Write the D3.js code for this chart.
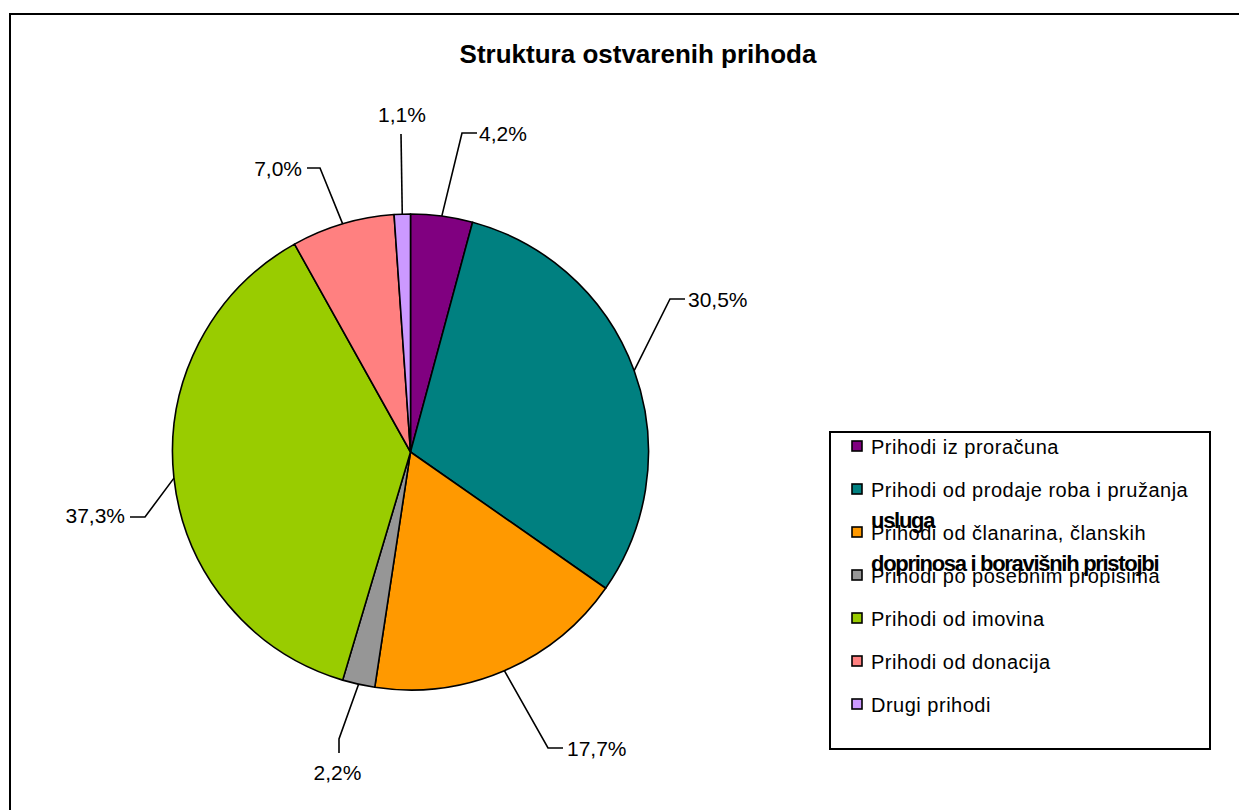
<!DOCTYPE html>
<html><head><meta charset="utf-8">
<script src="https://cdn.jsdelivr.net/npm/d3@7"></script>
<style>
html,body{margin:0;padding:0;background:#fff;}
svg{display:block;font-family:"Liberation Sans",Arial,sans-serif;}
</style></head>
<body>
<svg id="chart" width="1239" height="810"></svg>
<script>
// ---- data ----
const categories = ["Prihodi iz proračuna","Prihodi od prodaje roba i pružanja usluga","Prihodi od članarina, članskih doprinosa i boravišnih pristojbi","Prihodi po posebnim propisima","Prihodi od imovina","Prihodi od donacija","Drugi prihodi"];
const legendFirstLine = ["Prihodi iz proračuna","Prihodi od prodaje roba i pružanja","Prihodi od članarina, članskih","Prihodi po posebnim propisima","Prihodi od imovina","Prihodi od donacija","Drugi prihodi"];
const legendOverflow = ["","usluga","doprinosa i boravišnih pristojbi","","","",""];
const shares = [4.2, 30.5, 17.7, 2.2, 37.3, 7.0, 1.1];
const labels = ["4,2%","30,5%","17,7%","2,2%","37,3%","7,0%","1,1%"];
const colors = ["#800080","#008080","#FF9900","#969696","#99CC00","#FF8080","#CC99FF"];
const title = "Struktura ostvarenih prihoda";

// ---- layout (label offsets relative to pie centre) ----
const labelLayout = [
  {pts:[[51.5,-319],[66.5,-319]], text:[68.5,-311], anchor:"start"},
  {pts:[[259.5,-153],[274.5,-153]], text:[277.5,-145.5], anchor:"start"},
  {pts:[[137.5,296],[152.5,296]], text:[156.5,304], anchor:"start"},
  {pts:[[-71.5,287],[-71.5,301]], text:[-73,328], anchor:"middle"},
  {pts:[[-265.5,65],[-280.5,65]], text:[-285.5,71], anchor:"end"},
  {pts:[[-90.5,-284],[-103.5,-284]], text:[-108.5,-276], anchor:"end"},
  {pts:[[-9.5,-318]], text:[-8.5,-330], anchor:"middle"}
];

const svg = d3.select("#chart");
// outer frame
svg.append("rect").attr("x",10).attr("y",14).attr("width",1260).attr("height",820)
  .attr("fill","#fff").attr("stroke","#000").attr("stroke-width",2);

svg.append("text").attr("x",638).attr("y",63).attr("text-anchor","middle")
  .attr("font-size",26).attr("font-weight","bold").text(title);

const cx = 410.5, cy = 452, R = 238;
const g = svg.append("g").attr("transform",`translate(${cx},${cy})`);
const pie = d3.pie().value(d=>d).sort(null);
const arcs = pie(shares);
const arc = d3.arc().innerRadius(0).outerRadius(R);
const edge = d3.arc().innerRadius(R).outerRadius(R);

g.selectAll("path.slice").data(arcs).join("path").attr("class","slice")
  .attr("d",arc).attr("fill",(d,i)=>colors[i])
  .attr("stroke","#000").attr("stroke-width",1.6).attr("stroke-linejoin","round");

const line = d3.line();
g.selectAll("path.leader").data(arcs).join("path").attr("class","leader")
  .attr("d",(d,i)=>line([edge.centroid(d), ...labelLayout[i].pts]))
  .attr("fill","none").attr("stroke","#000").attr("stroke-width",1.6);

g.selectAll("text.lbl").data(arcs).join("text").attr("class","lbl")
  .attr("x",(d,i)=>labelLayout[i].text[0]).attr("y",(d,i)=>labelLayout[i].text[1])
  .attr("text-anchor",(d,i)=>labelLayout[i].anchor)
  .attr("font-size",21).attr("fill","#000").text((d,i)=>labels[i]);

// legend
const lg = svg.append("g");
lg.append("rect").attr("x",830).attr("y",432).attr("width",380).attr("height",317)
  .attr("fill","#fff").attr("stroke","#000").attr("stroke-width",2);
const rowY = d3.scaleLinear().domain([0,6]).range([454,712]);
const items = lg.selectAll("g.item").data(categories).join("g").attr("class","item")
  .attr("transform",(d,i)=>`translate(0,${rowY(i)})`);
items.append("rect").attr("x",852).attr("y",-13).attr("width",10).attr("height",10)
  .attr("fill",(d,i)=>colors[i]).attr("stroke","#000").attr("stroke-width",1.6);
items.append("text").attr("x",871).attr("y",0).attr("font-size",20)
  .attr("letter-spacing",0.5).attr("fill","#000").text((d,i)=>legendFirstLine[i]);
items.filter((d,i)=>legendOverflow[i]).append("text").attr("x",871).attr("y",31)
  .attr("font-size",22).attr("font-weight","bold").attr("letter-spacing",-1.3)
  .attr("fill","#000").text((d,i)=>legendOverflow[categories.indexOf(d)]);
</script>
</body></html>
